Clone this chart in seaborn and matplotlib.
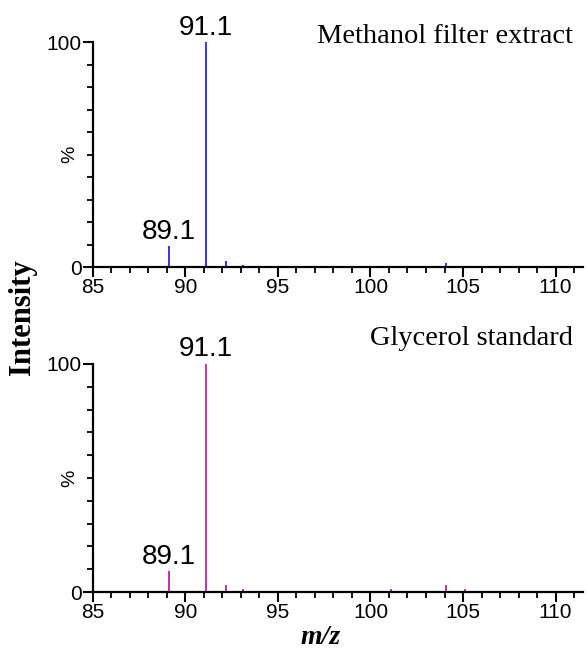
import matplotlib
matplotlib.use("Agg")
import matplotlib.pyplot as plt
import seaborn as sns
import numpy as np
from matplotlib.ticker import MultipleLocator, FixedLocator

# Data (m/z, relative intensity %)
mz_methanol = [87.1, 88.1, 89.1, 91.1, 92.2, 93.1, 99.1, 101.1, 103.0, 104.1, 105.1, 110.8]
int_methanol = [0.6, 0.5, 9.2, 100.0, 2.6, 0.8, 0.6, 0.5, 0.5, 1.9, 0.5, 0.6]
mz_glycerol = [87.0, 89.1, 91.1, 92.2, 93.1, 97.1, 101.1, 104.1, 105.1]
int_glycerol = [0.6, 9.0, 100.0, 3.2, 1.2, 0.5, 1.2, 3.2, 1.2]
peak_labels = ["89.1", "91.1"]
titles = ["Methanol filter extract", "Glycerol standard"]
xticks = [85, 90, 95, 100, 105, 110]

sns.set_theme(style="ticks")
plt.rcParams['font.family'] = ['Liberation Sans', 'DejaVu Sans']
plt.rcParams['text.color'] = 'black'

fig = plt.figure(figsize=(5.88, 6.5), dpi=100)
ax1 = fig.add_axes([0.158, 0.589, 0.834, 0.346])
ax2 = fig.add_axes([0.158, 0.0892, 0.834, 0.351])

panels = [(ax1, mz_methanol, int_methanol, "#2424f0", titles[0], 0.996),
          (ax2, mz_glycerol, int_glycerol, "#c21cae", titles[1], 1.083)]

for ax, mz, inten, col, title, ty in panels:
    ax.vlines(mz, 0, inten, colors=col, linewidth=1.3, clip_on=False)
    ax.set_xlim(85, 111.5)
    ax.set_ylim(0, 100)
    sns.despine(ax=ax)
    for s in ["left", "bottom"]:
        ax.spines[s].set_linewidth(1.6)
        ax.spines[s].set_color("black")
    ax.xaxis.set_major_locator(FixedLocator(xticks))
    ax.xaxis.set_minor_locator(MultipleLocator(1))
    ax.yaxis.set_major_locator(FixedLocator([0, 100]))
    ax.yaxis.set_minor_locator(MultipleLocator(10))
    ax.tick_params(axis="both", which="major", length=7, width=1.5, color="black",
                   labelsize=15, labelcolor="black", pad=1)
    ax.tick_params(axis="both", which="minor", length=4, width=1.3, color="black")
    ax.text(-0.047, 0.5, "%", transform=ax.transAxes, rotation=90,
            ha="center", va="center", fontsize=14, color="black")
    for lab in peak_labels:
        v = float(lab)
        idx = int(np.argmin(np.abs(np.array(mz) - v)))
        ax.annotate(lab, xy=(mz[idx], inten[idx]), xytext=(0, 1),
                    textcoords="offset points", ha="center", va="bottom",
                    fontsize=20, color="black", annotation_clip=False)
    ax.text(0.98, ty, title, transform=ax.transAxes, ha="right", va="baseline",
            fontsize=20.5, family="Liberation Serif", color="black")

fig.text(0.038, 0.5115, "Intensity", rotation=90, ha="center", va="center",
         fontsize=22, family="Liberation Serif", fontweight="bold", color="black")
fig.text(0.545, 0.019, "m/z", ha="center", va="center", fontsize=20,
         family="Liberation Serif", fontweight="bold", style="italic", color="black")

fig.savefig("out.png", dpi=100)
